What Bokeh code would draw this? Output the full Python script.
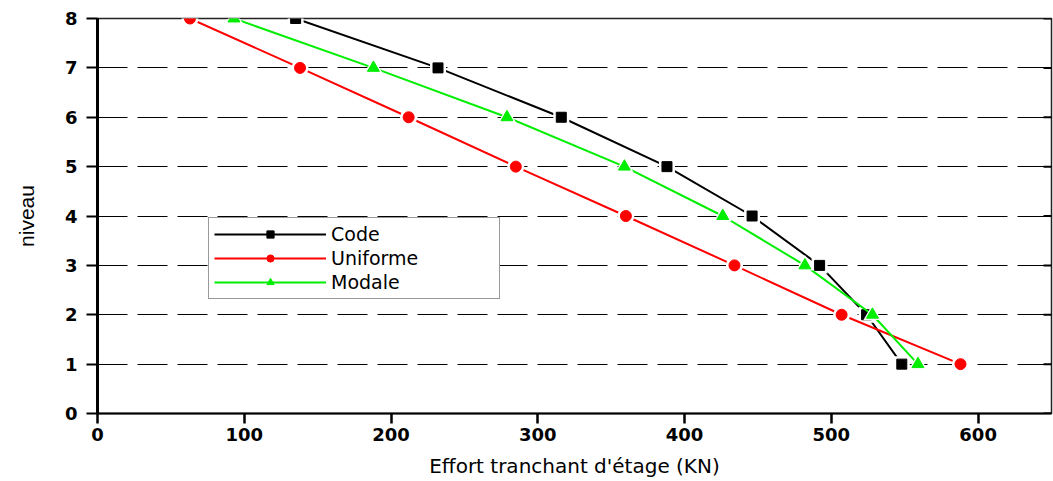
from bokeh.plotting import figure
from bokeh.models import Range1d, FixedTicker, Legend, LegendItem
from bokeh.embed import file_html
from bokeh.resources import INLINE

# Storey levels and storey shear (KN) for the three load distributions
niveaux = [1, 2, 3, 4, 5, 6, 7, 8]
code = [548, 524, 492, 446, 388, 316, 232, 135]
uniforme = [588, 507, 434, 360, 285, 212, 138, 63]
modale = [559, 528, 482, 426, 359, 279, 188, 93]

x_ticks = [0, 100, 200, 300, 400, 500, 600]
y_ticks = [0, 1, 2, 3, 4, 5, 6, 7, 8]
x_max = 650

p = figure(width=1053, height=481, output_backend="svg", toolbar_location=None,
           x_range=Range1d(0, x_max), y_range=Range1d(0, 8),
           min_border_left=97, min_border_right=2, min_border_top=18, min_border_bottom=68)
p.background_fill_color = "white"
p.border_fill_color = "white"
p.outline_line_color = "#222222"
p.outline_line_width = 1.5

# axes
p.xaxis.ticker = FixedTicker(ticks=x_ticks)
p.yaxis.ticker = FixedTicker(ticks=y_ticks)
for ax in (p.xaxis[0], p.yaxis[0]):
    ax.minor_tick_line_color = None
    ax.major_tick_in = 0
    ax.axis_line_color = "black"
    ax.major_tick_line_color = "black"
    ax.major_label_text_font = "DejaVu Sans"
    ax.major_label_text_font_style = "bold"
    ax.major_label_text_font_size = "18px"
    ax.major_label_text_color = "black"
    ax.axis_label_text_font_style = "normal"
    ax.axis_label_text_color = "black"

p.yaxis.axis_line_width = 3
p.yaxis.major_tick_line_width = 2
p.yaxis.major_tick_out = 11
p.yaxis.major_label_standoff = 9
p.yaxis.axis_label = "niveau"
p.yaxis.axis_label_text_font = "Liberation Sans"
p.yaxis.axis_label_text_font_size = "21px"
p.yaxis.axis_label_standoff = 24

p.xaxis.axis_line_width = 2
p.xaxis.major_tick_line_width = 2.5
p.xaxis.major_tick_out = 10
p.xaxis.major_label_standoff = 4
p.xaxis.axis_label = "Effort tranchant d'étage (KN)"
p.xaxis.axis_label_text_font = "DejaVu Sans"
p.xaxis.axis_label_text_font_size = "20px"
p.xaxis.axis_label_standoff = 10

# dashed horizontal grid
p.xgrid.grid_line_color = None
p.ygrid.grid_line_color = "black"
p.ygrid.grid_line_dash = "30 10"
p.ygrid.grid_line_width = 1

# inward tick marks on the right frame edge (half of each dash is clipped)
p.scatter([x_max] * len(y_ticks), y_ticks, marker="dash", size=16,
          line_color="black", line_width=2)

series = [
    ("Code", code, "black", "square", 10),
    ("Uniforme", uniforme, "#ff0000", "circle", 11),
    ("Modale", modale, "#00ee00", "triangle", 12),
]

items = []
for name, vals, color, marker, size in series:
    ln = p.line(vals, niveaux, line_color=color, line_width=2)
    # white halo leaves a small gap between line and marker
    p.scatter(vals, niveaux, marker=marker, size=size + 6, fill_color="white",
              line_color=None)
    mk = p.scatter(vals, niveaux, marker=marker, size=size, fill_color=color,
                   line_color=color)
    items.append(LegendItem(label=name, renderers=[ln, mk]))

legend = Legend(items=items, location=(111, 114))
legend.background_fill_color = "white"
legend.background_fill_alpha = 1.0
legend.border_line_color = "#333333"
legend.border_line_width = 1.5
legend.padding = 5
legend.spacing = 2
legend.margin = 0
legend.glyph_width = 112
legend.glyph_height = 18
legend.label_height = 18
legend.label_standoff = 5
legend.label_width = 163
legend.label_text_font = "DejaVu Sans"
legend.label_text_font_size = "19px"
legend.label_text_color = "black"
p.add_layout(legend, "center")

open("out.html", "w").write(file_html(p, INLINE))
